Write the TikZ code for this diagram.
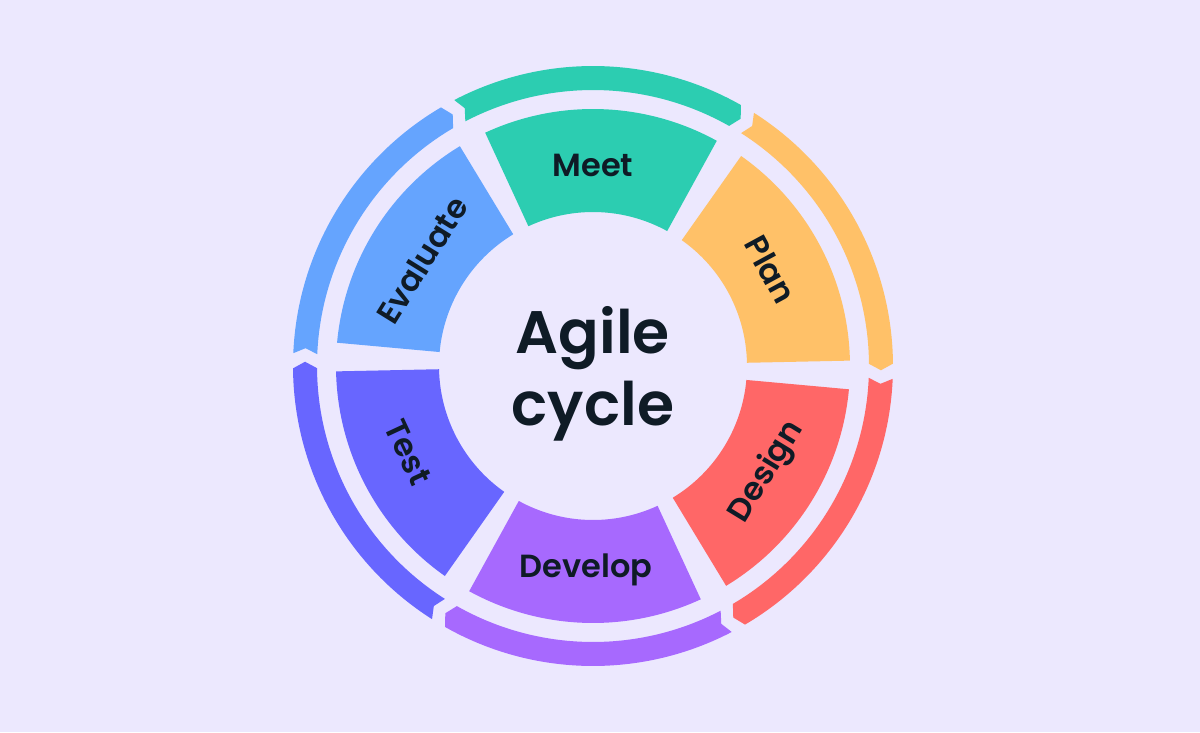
\documentclass[tikz,border=0pt]{standalone}
\usepackage{fontspec}
\setmainfont{Poppins}[BoldFont={Poppins SemiBold}]
\definecolor{bgcol}{HTML}{ECE8FE}
\definecolor{inkcol}{HTML}{0F1B26}
\definecolor{meetcol}{HTML}{2CCDB1}
\definecolor{plancol}{HTML}{FFC168}
\definecolor{descol}{HTML}{FF6767}
\definecolor{devcol}{HTML}{A769FE}
\definecolor{testcol}{HTML}{6866FF}
\definecolor{evalcol}{HTML}{65A4FE}

\begin{document}
\begin{tikzpicture}[x=1pt,y=1pt,
  lbl/.style={text=inkcol,inner sep=0pt,font=\bfseries\fontsize{32}{36}\selectfont}]
\useasboundingbox[fill=bgcol] (-593,-366) rectangle (607,366);
% inner ring
\foreach \a/\c in {-2/plancol,58/meetcol,118/evalcol,178/testcol,238/devcol,298/descol}
  \fill[\c] ({\a+3.2}:154pt) arc[start angle=\a+3.2,end angle=\a+56.8,radius=154pt]
    -- ({\a+56.8}:257pt) arc[start angle=\a+56.8,end angle=\a+3.2,radius=257pt] -- cycle;
% outer ring, arrows run clockwise
\foreach \g/\c in {-1/plancol,59/meetcol,119/evalcol,179/testcol,239/devcol,299/descol}
  \fill[\c] ({\g+58.55}:300pt) arc[start angle=\g+58.55,end angle=\g+1.45,radius=300pt]
    -- ({\g+0.15}:288pt) -- ({\g+1.45}:276pt)
    arc[start angle=\g+1.45,end angle=\g+58.55,radius=276pt]
    -- ({\g+57.45}:288pt) -- cycle;
\node[lbl] (meet) at (90:201pt) {Meet};
\node[lbl,rotate=-61.5] (plan) at (28.5:202pt) {Plan};
\node[lbl,rotate=58.6] (design) at (-31.4:204pt) {Design};
\node[lbl] (develop) at (-92:204pt) {Develop};
\node[lbl,rotate=-65] (test) at (205:204pt) {Test};
\node[lbl,rotate=58.2] (evaluate) at (148.2:201pt) {Evaluate};
\node[text=inkcol,align=center,font=\bfseries\fontsize{60}{72}\selectfont] (title) at (0,-8) {Agile\\cycle};
\end{tikzpicture}
\end{document}
